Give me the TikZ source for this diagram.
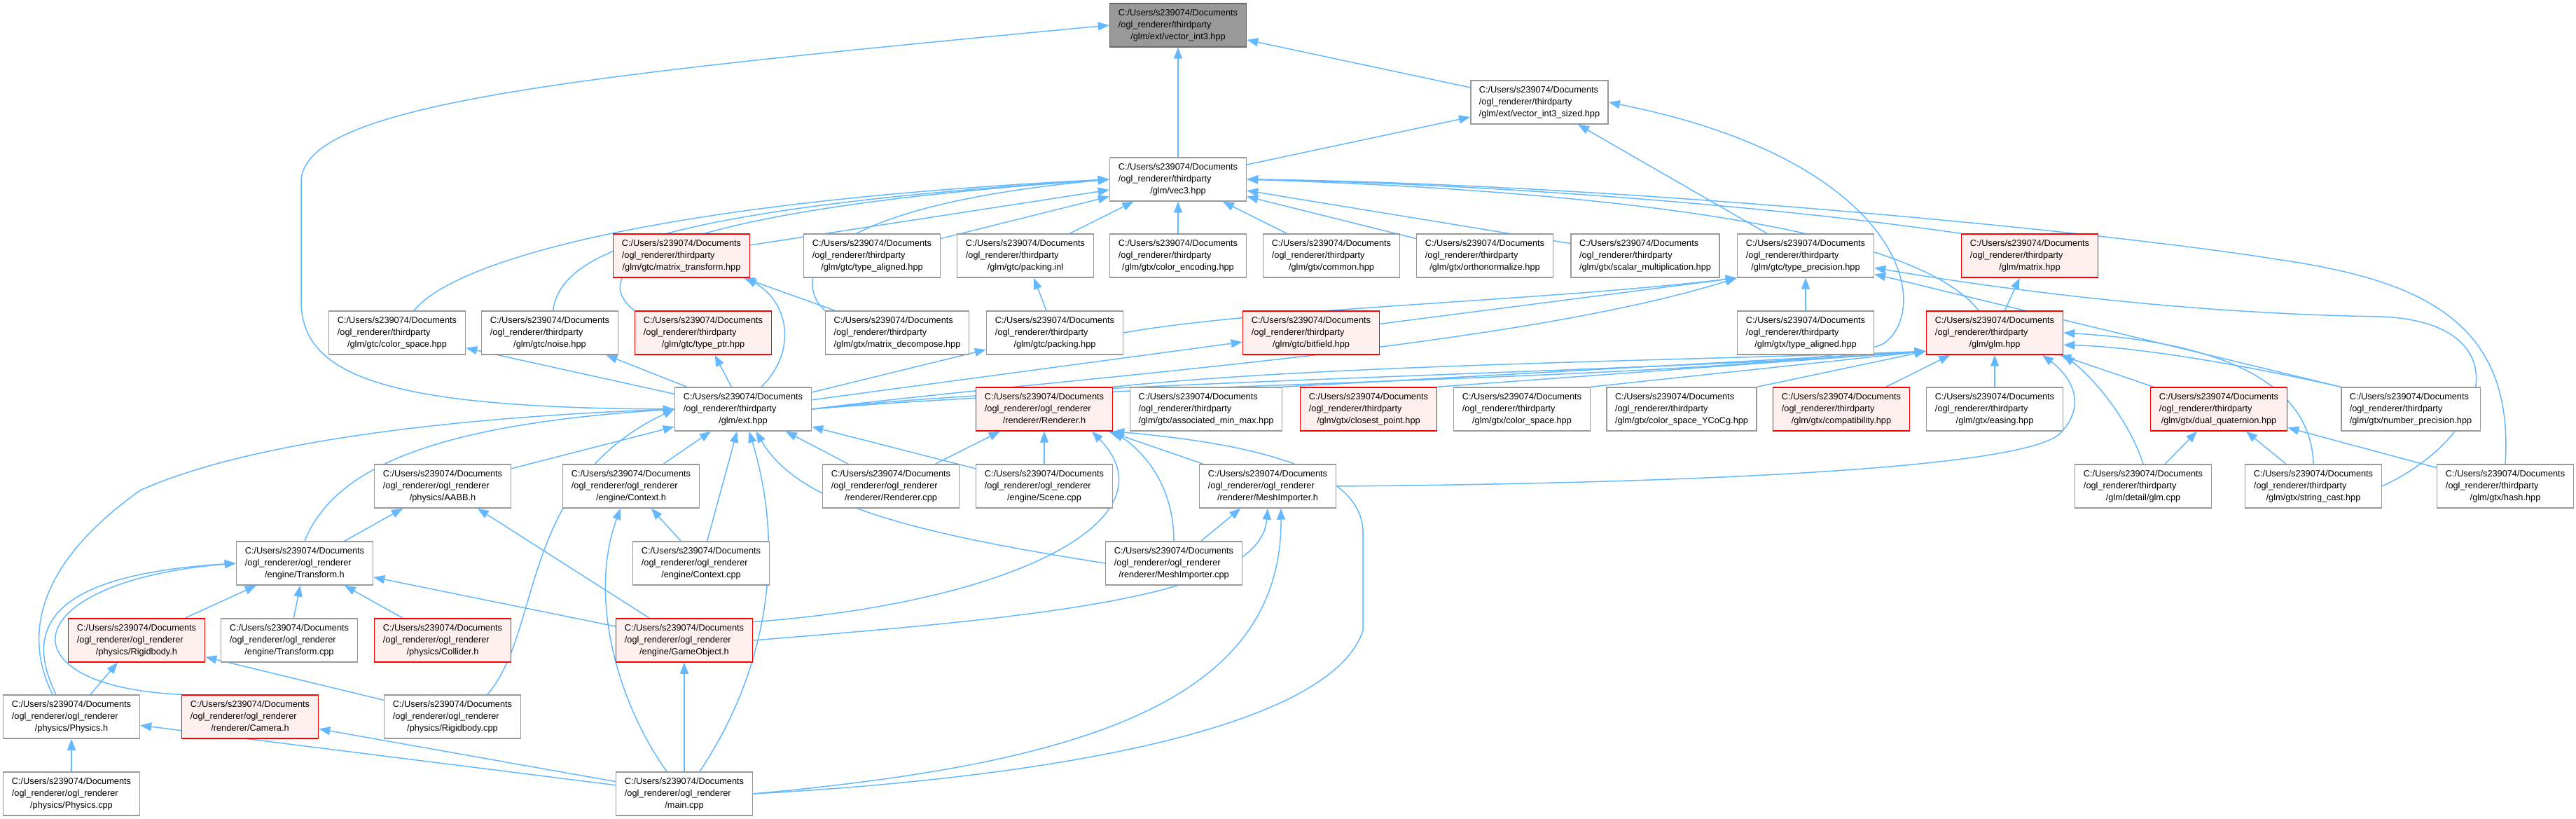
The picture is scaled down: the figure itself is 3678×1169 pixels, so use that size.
\documentclass[tikz,border=0pt]{standalone}
\usepackage{fontspec}
\setmainfont{Liberation Sans}
\usepackage{xcolor}
\usepackage{tikz}
\usetikzlibrary{arrows.meta,backgrounds}
\definecolor{steelone}{HTML}{63B8FF}
\definecolor{grey60}{HTML}{999999}
\definecolor{grey40}{HTML}{666666}
\definecolor{truncfill}{HTML}{FFF0F0}
\tikzset{
  filebox/.style={
    rectangle, draw=#1, fill=white, line width=0.15mm,
    minimum width=19.5mm, minimum height=6.2mm,
    inner xsep=1.2mm, inner ysep=0pt,
    font=\fontsize{3.63pt}{4.84pt}\selectfont
  },
  filebox/.default=grey60,
  rootbox/.style={filebox=grey40, fill=grey60},
  redbox/.style={filebox=red, fill=truncfill},
  inclarrow/.style={
    -{Triangle[length=1.6mm, width=1.2mm]}, line width=0.15mm, color=#1
  },
  inclarrow/.default=steelone,
}
\newcommand{\tpath}[1]{\begin{tabular}{@{}l@{}}C:/Users/s239074/Documents\\/ogl\_renderer/thirdparty\\\multicolumn{1}{@{}c@{}}{#1}\end{tabular}}
\newcommand{\opath}[1]{\begin{tabular}{@{}l@{}}C:/Users/s239074/Documents\\/ogl\_renderer/ogl\_renderer\\\multicolumn{1}{@{}c@{}}{#1}\end{tabular}}

\begin{document}
\begin{tikzpicture}[x=0.1mm, y=-0.1mm]
    \useasboundingbox (0,0) rectangle (3678,1169);

    % Root and the two headers above the gtc/gtx rows
    \node[rootbox] (vint3) at (1682,36) {\tpath{/glm/ext/vector\_int3.hpp}};
    \node[filebox] (vsized) at (2198,146) {\tpath{/glm/ext/vector\_int3\_sized.hpp}};
    \node[filebox] (vecthree) at (1682,256) {\tpath{/glm/vec3.hpp}};

    % Row 3
    \node[redbox] (mattrans) at (973,365) {\tpath{/glm/gtc/matrix\_transform.hpp}};
    \node[filebox] (gtcaligned) at (1245,365) {\tpath{/glm/gtc/type\_aligned.hpp}};
    \node[filebox] (packinl) at (1464,365) {\tpath{/glm/gtc/packing.inl}};
    \node[filebox] (colenc) at (1682,365) {\tpath{/glm/gtx/color\_encoding.hpp}};
    \node[filebox] (gtxcommon) at (1901,365) {\tpath{/glm/gtx/common.hpp}};
    \node[filebox] (orthonorm) at (2120,365) {\tpath{/glm/gtx/orthonormalize.hpp}};
    \node[filebox] (scalarmul) at (2349,365) {\tpath{/glm/gtx/scalar\_multiplication.hpp}};
    \node[filebox] (typeprec) at (2578,365) {\tpath{/glm/gtc/type\_precision.hpp}};
    \node[redbox] (matrixh) at (2898,365) {\tpath{/glm/matrix.hpp}};

    % Row 4
    \node[filebox] (gtccolsp) at (567,475) {\tpath{/glm/gtc/color\_space.hpp}};
    \node[filebox] (noise) at (785,475) {\tpath{/glm/gtc/noise.hpp}};
    \node[redbox] (typeptr) at (1004,475) {\tpath{/glm/gtc/type\_ptr.hpp}};
    \node[filebox] (matdecomp) at (1281,475) {\tpath{/glm/gtx/matrix\_decompose.hpp}};
    \node[filebox] (packhpp) at (1506,475) {\tpath{/glm/gtc/packing.hpp}};
    \node[redbox] (bitfield) at (1872,475) {\tpath{/glm/gtc/bitfield.hpp}};
    \node[filebox] (gtxaligned) at (2578,475) {\tpath{/glm/gtx/type\_aligned.hpp}};
    \node[redbox] (glmhpp) at (2848,475) {\tpath{/glm/glm.hpp}};

    % Row 5
    \node[filebox] (exthpp) at (1061,584) {\tpath{/glm/ext.hpp}};
    \node[redbox] (rendh) at (1491,584) {\opath{/renderer/Renderer.h}};
    \node[filebox] (assocmm) at (1722,584) {\tpath{/glm/gtx/associated\_min\_max.hpp}};
    \node[redbox] (closestpt) at (1954,584) {\tpath{/glm/gtx/closest\_point.hpp}};
    \node[filebox] (gtxcolsp) at (2173,584) {\tpath{/glm/gtx/color\_space.hpp}};
    \node[filebox] (ycocg) at (2401,584) {\tpath{/glm/gtx/color\_space\_YCoCg.hpp}};
    \node[redbox] (compat) at (2629,584) {\tpath{/glm/gtx/compatibility.hpp}};
    \node[filebox] (easing) at (2848,584) {\tpath{/glm/gtx/easing.hpp}};
    \node[redbox] (dualquat) at (3168,584) {\tpath{/glm/gtx/dual\_quaternion.hpp}};
    \node[filebox] (numprec) at (3442,584) {\tpath{/glm/gtx/number\_precision.hpp}};

    % Row 6
    \node[filebox] (aabbh) at (632,694) {\opath{/physics/AABB.h}};
    \node[filebox] (ctxh) at (901,694) {\opath{/engine/Context.h}};
    \node[filebox] (rendcpp) at (1272,694) {\opath{/renderer/Renderer.cpp}};
    \node[filebox] (scenecpp) at (1491,694) {\opath{/engine/Scene.cpp}};
    \node[filebox] (meshh) at (1810,694) {\opath{/renderer/MeshImporter.h}};
    \node[filebox] (glmcpp) at (3060,694) {\tpath{/glm/detail/glm.cpp}};
    \node[filebox] (strcast) at (3303,694) {\tpath{/glm/gtx/string\_cast.hpp}};
    \node[filebox] (hashhpp) at (3577,694) {\tpath{/glm/gtx/hash.hpp}};

    % Row 7
    \node[filebox] (transh) at (435,804) {\opath{/engine/Transform.h}};
    \node[filebox] (ctxcpp) at (1001,804) {\opath{/engine/Context.cpp}};
    \node[filebox] (meshcpp) at (1676,804) {\opath{/renderer/MeshImporter.cpp}};

    % Row 8
    \node[redbox] (rigidh) at (195,914) {\opath{/physics/Rigidbody.h}};
    \node[filebox] (transcpp) at (413,914) {\opath{/engine/Transform.cpp}};
    \node[redbox] (colliderh) at (632,914) {\opath{/physics/Collider.h}};
    \node[redbox] (gameobjh) at (977,914) {\opath{/engine/GameObject.h}};

    % Rows 9 and 10
    \node[filebox] (physh) at (102,1023) {\opath{/physics/Physics.h}};
    \node[redbox] (camerah) at (357,1023) {\opath{/renderer/Camera.h}};
    \node[filebox] (rigidcpp) at (646,1023) {\opath{/physics/Rigidbody.cpp}};
    \node[filebox] (physcpp) at (102,1133) {\opath{/physics/Physics.cpp}};
    \node[filebox] (maincpp) at (977,1133) {\opath{/main.cpp}};

    \begin{scope}[on background layer]
    % Into the root
    \draw[inclarrow] (vecthree) -- (vint3);
    \draw[inclarrow] (vsized) -- (vint3);
    \draw[inclarrow] (exthpp.west) .. controls (560,583) and (430,540) .. (430,430) -- (430,260) .. controls (430,150) and (800,110) .. (vint3.west);

    % Into vector_int3_sized
    \draw[inclarrow] (vecthree) -- (vsized);
    \draw[inclarrow] (typeprec) -- (vsized);
    \draw[inclarrow] (exthpp.east) .. controls (1600,545) and (2600,540) .. (2690,490) .. controls (2760,440) and (2720,230) .. (vsized.east);

    % Into vec3
    \draw[inclarrow] (gtccolsp) .. controls (640,380) and (900,290) .. (vecthree.west);
    \draw[inclarrow] (noise) .. controls (800,370) and (900,300) .. (vecthree.west);
    \draw[inclarrow] (typeptr.north west) .. controls (845,395) and (880,305) .. (vecthree.west);
    \draw[inclarrow] (mattrans) -- (vecthree);
    \draw[inclarrow] (matdecomp.north west) .. controls (1140,410) and (1120,300) .. (vecthree.west);
    \draw[inclarrow] (gtcaligned) -- (vecthree);
    \draw[inclarrow] (packinl) -- (vecthree);
    \draw[inclarrow] (colenc) -- (vecthree);
    \draw[inclarrow] (gtxcommon) -- (vecthree);
    \draw[inclarrow] (orthonorm) -- (vecthree);
    \draw[inclarrow] (scalarmul) -- (vecthree);
    \draw[inclarrow] (matrixh.north west) .. controls (2500,290) and (2100,262) .. (vecthree.east);
    \draw[inclarrow] ([xshift=-2.3mm]glmhpp.north) .. controls (2760,360) and (2500,280) .. (vecthree.east);
    \draw[inclarrow] (hashhpp.north) .. controls (3590,460) and (3460,400) .. (3250,370) .. controls (3000,330) and (2300,262) .. (vecthree.east);

    % gtc / gtx headers
    \draw[inclarrow] (matdecomp) -- (mattrans);
    \draw[inclarrow] ([xshift=2.6mm]exthpp.north) .. controls (1140,500) and (1125,430) .. ([xshift=-0.7mm]mattrans.south east);
    \draw[inclarrow] (packhpp) -- (packinl);
    \draw[inclarrow] (exthpp) -- (typeptr);
    \draw[inclarrow] (exthpp) -- (noise);
    \draw[inclarrow] (exthpp) -- (gtccolsp);
    \draw[inclarrow] (exthpp) -- (packhpp);
    \draw[inclarrow] (exthpp) -- (bitfield);
    \draw[inclarrow] (exthpp.east) .. controls (1500,540) and (2150,500) .. (typeprec.south west);
    \draw[inclarrow] (packhpp.east) .. controls (1800,440) and (2200,430) .. (typeprec.south west);
    \draw[inclarrow] (bitfield) -- (typeprec.south west);
    \draw[inclarrow] (gtxaligned) -- (typeprec);
    \draw[inclarrow] (glmhpp) -- (matrixh);

    % Into glm.hpp
    \draw[inclarrow] (exthpp.east) .. controls (1500,545) and (2400,530) .. (glmhpp.195);
    \draw[inclarrow] (rendh.north east) .. controls (1900,520) and (2400,515) .. (glmhpp.195);
    \draw[inclarrow] (assocmm.north east) -- (glmhpp.195);
    \draw[inclarrow] (closestpt.north east) -- (glmhpp.195);
    \draw[inclarrow] (gtxcolsp.north east) -- (glmhpp.195);
    \draw[inclarrow] (ycocg.north east) -- (glmhpp.195);
    \draw[inclarrow] (compat) -- (glmhpp);
    \draw[inclarrow] (easing) -- (glmhpp);
    \draw[inclarrow] (meshh.east) .. controls (2400,690) and (2880,670) .. (2940,620) .. controls (2980,580) and (2960,540) .. (glmhpp.-25);
    \draw[inclarrow] (glmcpp.north) .. controls (3040,600) and (2990,540) .. (glmhpp.south east);
    \draw[inclarrow] (dualquat) -- (glmhpp);
    \draw[inclarrow] (strcast.north) .. controls (3300,560) and (3200,490) .. (glmhpp.east);
    \draw[inclarrow] (numprec.north west) .. controls (3200,520) and (3050,495) .. (glmhpp.-10);

    % type_precision and dual_quaternion from the right
    \draw[inclarrow] (numprec.north west) -- (typeprec.-15);
    \draw[inclarrow] (strcast.east) .. controls (3560,620) and (3600,460) .. (3400,452) .. controls (3150,448) and (2900,420) .. (typeprec.-10);
    \draw[inclarrow] (strcast) -- (dualquat);
    \draw[inclarrow] (glmcpp) -- (dualquat);
    \draw[inclarrow] (hashhpp) -- (dualquat);

    % Into Renderer.h and MeshImporter.h
    \draw[inclarrow] (rendcpp) -- (rendh);
    \draw[inclarrow] (scenecpp) -- (rendh);
    \draw[inclarrow] (meshh) -- (rendh);
    \draw[inclarrow] (meshcpp.north) .. controls (1676,700) and (1640,650) .. (rendh.south east);
    \draw[inclarrow] (meshcpp) -- (meshh);
    \draw[inclarrow] (maincpp.east) .. controls (1500,1110) and (1900,1040) .. (1946,900) -- (1946,760) .. controls (1946,660) and (1750,630) .. (rendh.south east);
    \draw[inclarrow] (gameobjh.15) .. controls (1450,860) and (1680,740) .. (rendh.-25);
    \draw[inclarrow] (gameobjh.east) .. controls (1500,880) and (1800,850) .. (meshh.south);
    \draw[inclarrow] (maincpp.east) .. controls (1550,1090) and (1830,1000) .. ([xshift=1.9mm]meshh.south);

    % Into ext.hpp
    \draw[inclarrow] (ctxh) -- (exthpp);
    \draw[inclarrow] (ctxcpp) -- (exthpp);
    \draw[inclarrow] (rendcpp) -- (exthpp);
    \draw[inclarrow] (scenecpp) -- (exthpp);
    \draw[inclarrow] (aabbh) -- (exthpp);
    \draw[inclarrow] (meshcpp.west) .. controls (1300,760) and (1140,720) .. (exthpp.-60);
    \draw[inclarrow] ([xshift=2.2mm]maincpp.north) .. controls (1100,950) and (1120,780) .. (exthpp.-75);
    \draw[inclarrow] (transh.north) .. controls (480,660) and (640,605) .. (exthpp.west);
    \draw[inclarrow] ([xshift=-2.7mm]physh.north) .. controls (30,900) and (60,800) .. (200,700) .. controls (400,610) and (800,590) .. (exthpp.west);
    \draw[inclarrow] ([xshift=5mm]rigidcpp.north) .. controls (775,900) and (740,690) .. (exthpp.west);

    % Engine and physics files
    \draw[inclarrow] ([xshift=-2.2mm]physh.north) .. controls (30,890) and (80,820) .. (transh.west);
    \draw[inclarrow] (camerah.north west) .. controls (0,980) and (20,830) .. (transh.west);
    \draw[inclarrow] (rigidh) -- (transh);
    \draw[inclarrow] (transcpp) -- (transh);
    \draw[inclarrow] (colliderh) -- (transh);
    \draw[inclarrow] (gameobjh) -- (transh);
    \draw[inclarrow] (transh) -- (aabbh);
    \draw[inclarrow] (gameobjh) -- (aabbh);
    \draw[inclarrow] (rigidcpp) -- (rigidh);
    \draw[inclarrow] (physh) -- (rigidh);
    \draw[inclarrow] (physcpp) -- (physh);
    \draw[inclarrow] (maincpp) -- (physh);
    \draw[inclarrow] (maincpp) -- (camerah);
    \draw[inclarrow] (maincpp) -- (gameobjh);
    \draw[inclarrow] (ctxcpp) -- (ctxh);
    \draw[inclarrow] ([xshift=-2.5mm]maincpp.north) .. controls (880,1000) and (840,850) .. ([xshift=-1.5mm]ctxh.south);
    \end{scope}
\end{tikzpicture}
\end{document}
